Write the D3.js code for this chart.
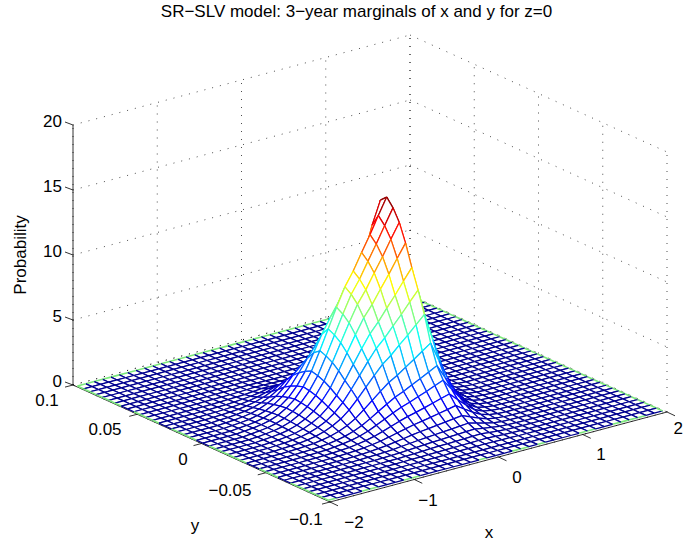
<!DOCTYPE html>
<html><head><meta charset="utf-8">
<script src="https://cdn.jsdelivr.net/npm/d3@7"></script>
<style>html,body{margin:0;padding:0;background:#fff}svg{display:block}text{font-family:"Liberation Sans",Arial,sans-serif;fill:#000}</style>
</head><body><div id="c"></div>
<script>
const title="SR\u2212SLV model: 3\u2212year marginals of x and y for z=0";
const xTicks=[-2,-1,0,1,2], yTicks=[-0.1,-0.05,0,0.05,0.1], zTicks=[0,5,10,15,20];
const xLabels=["\u22122","\u22121","0","1","2"], yLabels=["\u22120.1","\u22120.05","0","0.05","0.1"];
const xNodes=d3.range(41).map(i=>-1.984+i*0.0992), yNodes=d3.range(41).map(j=>-0.0976+j*0.00488);
// Surface heights. Rows run along x from index 5, columns along y from index 3; the rest of the mesh is 0.
const zFirstRow=5, zFirstCol=3;
const zRows=[
[0,0,0,0,0,0,.01,.01,.01,.02,.02,.03,.04,.04,.05,.05,.06,.06,.06,.05,.04,.03,.02,.01,.01,0,0,0,0],
[0,0,0,0,0,.01,.01,.02,.02,.03,.04,.06,.07,.08,.1,.11,.12,.12,.11,.1,.08,.06,.04,.03,.01,.01,0,0,0],
[0,0,0,.01,.01,.01,.02,.03,.04,.05,.08,.1,.13,.15,.17,.19,.2,.21,.2,.17,.15,.11,.08,.05,.03,.01,.01,0,0],
[0,0,.01,.01,.01,.02,.04,.05,.07,.09,.13,.18,.22,.25,.29,.32,.35,.36,.33,.3,.25,.19,.13,.08,.04,.02,.01,0,0],
[0,0,.01,.02,.02,.04,.06,.09,.12,.16,.22,.29,.36,.42,.49,.54,.58,.6,.56,.5,.42,.31,.22,.13,.07,.04,.02,.01,0],
[0,.01,.01,.02,.04,.06,.1,.14,.2,.25,.35,.48,.59,.69,.79,.88,.94,.98,.91,.81,.69,.51,.35,.22,.12,.06,.03,.01,0],
[.01,.01,.02,.04,.06,.1,.15,.22,.3,.39,.54,.74,.9,1.05,1.22,1.35,1.44,1.5,1.4,1.25,1.05,.78,.54,.33,.18,.09,.05,.02,.01],
[.01,.02,.03,.06,.09,.15,.23,.33,.45,.59,.82,1.11,1.36,1.59,1.84,2.04,2.18,2.27,2.11,1.88,1.59,1.18,.82,.5,.27,.14,.07,.03,.01],
[.01,.03,.05,.08,.13,.21,.33,.48,.66,.86,1.19,1.62,1.98,2.31,2.67,2.97,3.17,3.3,3.07,2.74,2.31,1.72,1.19,.73,.4,.2,.1,.04,.02],
[.02,.04,.07,.12,.19,.31,.47,.68,.94,1.22,1.69,2.3,2.82,3.29,3.81,4.23,4.51,4.7,4.32,3.67,2.91,2.12,1.41,.8,.42,.19,.09,.03,.01],
[.02,.05,.09,.16,.25,.4,.62,.9,1.24,1.61,2.23,3.04,3.72,4.34,5.02,5.58,5.95,6.2,5.58,4.53,3.41,2.29,1.36,.74,.37,.16,.06,.02,0],
[.03,.06,.12,.19,.31,.5,.77,1.12,1.54,2.0,2.77,3.77,4.62,5.39,6.24,6.93,7.39,7.7,6.7,5.0,3.47,2.08,1.16,.62,.27,.12,.04,0,0],
[.04,.07,.14,.23,.36,.59,.91,1.32,1.82,2.37,3.28,4.46,5.46,6.37,7.37,8.19,8.74,9.1,7.74,5.46,3.46,1.82,.91,.46,.18,.07,.03,0,0],
[.04,.08,.15,.25,.41,.66,1.02,1.47,2.03,2.64,3.65,4.97,6.09,7.11,8.22,9.14,9.74,10.15,8.63,6.09,3.86,2.03,1.02,.51,.2,.08,.03,0,0],
[.05,.09,.17,.29,.46,.74,1.14,1.65,2.28,2.96,4.1,5.59,6.84,7.98,9.23,10.26,10.94,11.4,9.69,6.84,4.33,2.28,1.14,.57,.23,.09,.03,0,0],
[.05,.1,.19,.32,.5,.82,1.26,1.83,2.52,3.28,4.54,6.17,7.56,8.82,10.21,11.34,12.1,12.6,10.71,7.56,4.79,2.52,1.26,.63,.25,.1,.04,0,0],
[.06,.11,.21,.35,.56,.9,1.39,2.02,2.78,3.61,5.0,6.81,8.34,9.73,11.26,12.51,13.34,13.9,12.93,9.73,6.26,3.48,1.67,.83,.28,.14,.04,0,0],
[.06,.12,.23,.38,.61,.98,1.52,2.2,3.03,3.94,5.45,7.42,9.09,10.6,12.27,13.64,14.54,15.15,14.7,12.12,8.33,4.55,2.27,1.06,.45,.15,.06,0,0],
[.04,.09,.16,.27,.44,.71,1.09,1.58,2.18,2.83,3.92,5.34,6.54,7.63,8.83,9.81,10.46,10.9,9.27,6.54,4.14,2.18,1.09,.55,.22,.09,.03,0,0],
[.03,.05,.1,.17,.27,.44,.68,.99,1.36,1.77,2.45,3.33,4.08,4.76,5.51,6.12,6.53,6.8,5.78,4.08,2.58,1.36,.68,.34,.14,.05,.02,0,0],
[.01,.03,.05,.08,.13,.21,.33,.48,.66,.86,1.19,1.62,1.98,2.31,2.67,2.97,3.17,3.3,2.81,1.98,1.25,.66,.33,.17,.07,.03,.01,0,0],
[.01,.01,.02,.03,.05,.09,.14,.2,.27,.35,.49,.67,.82,.95,1.1,1.22,1.31,1.36,1.16,.82,.52,.27,.14,.07,.03,.01,0,0,0],
[0,0,.01,.01,.02,.03,.05,.08,.11,.14,.19,.26,.32,.37,.43,.48,.51,.53,.45,.32,.2,.11,.05,.03,.01,0,0,0,0],
[0,0,0,0,.01,.01,.02,.03,.04,.05,.06,.09,.11,.13,.15,.16,.17,.18,.15,.11,.07,.04,.02,.01,0,0,0,0,0],
[0,0,0,0,0,0,.01,.01,.01,.02,.02,.03,.04,.04,.05,.05,.06,.06,.05,.04,.02,.01,.01,0,0,0,0,0,0]
];
const greenFrontRight=[0,4,5,9,10,18,22,23,25,30,31,34,35,36,37];
const greenFrontLeft=[0,1,2,3,4,5,8,9,10,13,14,15,16,17,18,21,22,23,24,27,28,29,30,33,34,35,36,37,38,39];

const W=684,H=542;
const svg=d3.select("#c").append("svg").attr("width",W).attr("height",H).attr("viewBox",[0,0,W,H]);
const front=[330,502];
const xToX=d3.scaleLinear([-2,2],[0,337]), xToY=d3.scaleLinear([-2,2],[0,-90]);
const yToX=d3.scaleLinear([-0.1,0.1],[0,-257]), yToY=d3.scaleLinear([-0.1,0.1],[0,-117]);
const zToY=d3.scaleLinear([0,20],[0,-260]);
const P=(x,y,z)=>[front[0]+xToX(x)+yToX(y),front[1]+xToY(x)+yToY(y)+zToY(z)];
const Z=xNodes.map((_,i)=>yNodes.map((_,j)=>(zRows[i-zFirstRow]||[])[j-zFirstCol]||0));
const zMax=d3.max(Z.flat());
const jet=d3.scaleLinear().domain([0,.125,.375,.625,.875,1].map(t=>t*zMax)).range(["#00008f","#0000ff","#00ffff","#ffff00","#ff0000","#800000"]).clamp(true);
const rimColor="#7ce87c";
const seg=(g,a,b)=>g.append("line").attr("x1",a[0]).attr("y1",a[1]).attr("x2",b[0]).attr("y2",b[1]);

// grid
const grid=svg.append("g").attr("stroke","#000").attr("stroke-width",.7).attr("stroke-dasharray","1 7").attr("fill","none");
xTicks.forEach(x=>{seg(grid,P(x,.1,0),P(x,.1,20));seg(grid,P(x,-.1,0),P(x,.1,0));});
yTicks.forEach(y=>{seg(grid,P(2,y,0),P(2,y,20));seg(grid,P(-2,y,0),P(2,y,0));});
zTicks.forEach(z=>{seg(grid,P(-2,.1,z),P(2,.1,z));seg(grid,P(2,.1,z),P(2,-.1,z));});
// axes
const ax=svg.append("g").attr("stroke","#000").attr("stroke-width",.8).attr("fill","none");
seg(ax,P(-2,.1,0),P(-2,.1,20));seg(ax,P(-2,.1,0),P(-2,-.1,0));seg(ax,P(-2,-.1,0),P(2,-.1,0));
xTicks.forEach(x=>{const a=P(x,-.1,0);seg(ax,a,[a[0]+8,a[1]+3.8]);});
yTicks.forEach(y=>{const a=P(-2,y,0);seg(ax,a,[a[0]-8,a[1]+2.1]);});
zTicks.forEach(z=>{const a=P(-2,.1,z);seg(ax,a,[a[0]-8,a[1]-3]);});

// mesh, painted back to front; rim edges take the rim colour
const last=xNodes.length-1;
const m=svg.append("g").attr("stroke-width",1.25).attr("fill","none");
const isRim=(n,n2)=>{
  const [a,b]=n,[c,d]=n2;
  return (b===last&&d===last&&Z[a][b]===0&&Z[c][d]===0)||(a===last&&c===last)||
    (b===0&&d===0&&greenFrontRight.includes(Math.min(a,c)))||(a===0&&c===0&&greenFrontLeft.includes(Math.min(b,d)));
};
for(let i=last-1;i>=0;i--)for(let j=last-1;j>=0;j--){
  const q=[[i,j],[i+1,j],[i+1,j+1],[i,j+1]];
  const p=q.map(([a,b])=>P(xNodes[a],yNodes[b],Z[a][b]));
  m.append("path").attr("d","M"+p.join("L")+"Z").attr("fill","#fff").attr("stroke","none");
  q.forEach((n,k)=>{const n2=q[(k+1)%4], l=seg(m,p[k],p[(k+1)%4]);
    if(isRim(n,n2))l.attr("stroke",rimColor).attr("stroke-width",1.6);
    else l.attr("stroke",jet((Z[n[0]][n[1]]+Z[n2[0]][n2[1]])/2));});
}
// text
const tx=(s,x,y,size,anchor="middle")=>svg.append("text").attr("x",x).attr("y",y).attr("font-size",size).attr("text-anchor",anchor).text(s);
tx(title,356.5,17,17);
zTicks.forEach(z=>{const a=P(-2,.1,z);tx(String(z),62,a[1]+2,17,"end");});
const xl=[[354,528],[428,506],[517,483],[601,460]];
xl.forEach((c,i)=>tx(xLabels[i],c[0],c[1],17));
tx(xLabels[4],683,434,17,"end");
const yl=[[306,525],[230,496],[183,465],[105,435],[47,406]];
yLabels.forEach((s,i)=>tx(s,yl[i][0],yl[i][1],17));
tx("x",489,538,17);tx("y",195,531,17);
svg.append("text").attr("transform","translate(26,255) rotate(-90)").attr("font-size",17).attr("text-anchor","middle").text("Probability");
</script></body></html>
